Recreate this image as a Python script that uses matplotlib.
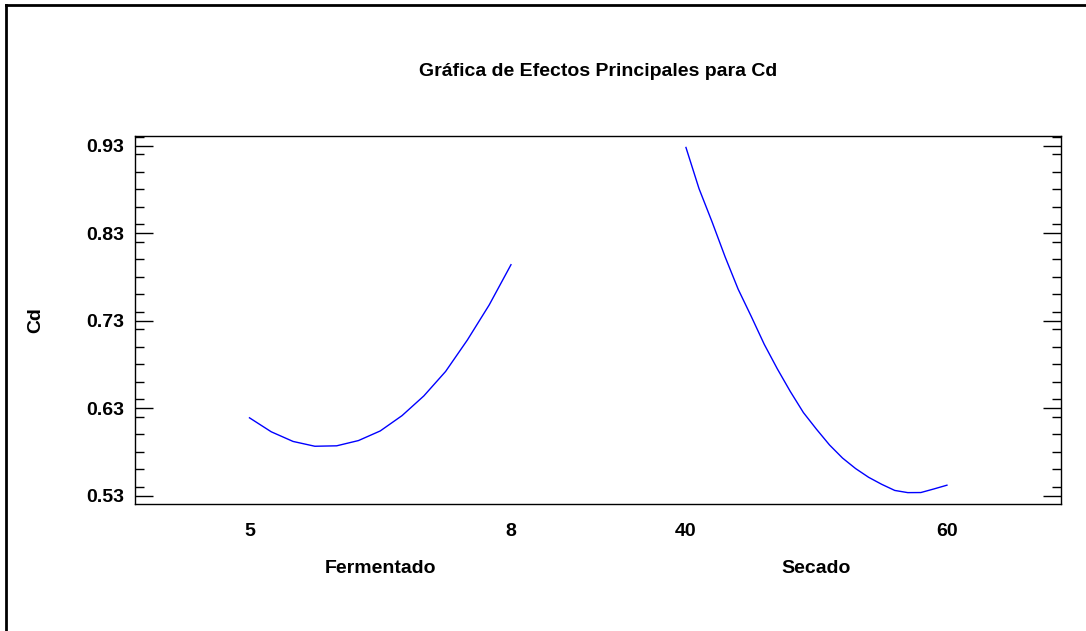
import matplotlib
matplotlib.use("Agg")
import matplotlib.pyplot as plt
from matplotlib.lines import Line2D
from matplotlib.ticker import MultipleLocator

# Datos
fermentado = [5.0, 5.25, 5.5, 5.75, 6.0, 6.25, 6.5, 6.75, 7.0, 7.25, 7.5, 7.75, 8.0]
cd_fermentado = [0.619, 0.603, 0.592, 0.5865, 0.587, 0.593, 0.604, 0.6215, 0.644,
                 0.672, 0.708, 0.748, 0.794]

secado = [40, 41, 42, 43, 44, 45, 46, 47, 48, 49, 50, 51, 52, 53, 54, 55, 56, 57, 58, 59, 60]
cd_secado = [0.928, 0.881, 0.843, 0.803, 0.766, 0.735, 0.703, 0.675, 0.649, 0.625,
             0.606, 0.588, 0.573, 0.561, 0.551, 0.543, 0.536, 0.5335, 0.5336, 0.5377, 0.542]

y_ticks = [0.53, 0.63, 0.73, 0.83, 0.93]
titulo = "Gráfica de Efectos Principales para Cd"

plt.rcParams['font.family'] = ['Liberation Sans', 'DejaVu Sans']
plt.rcParams['font.weight'] = 'bold'
plt.rcParams['font.size'] = 14

W, H = 1086, 631
fig = plt.figure(figsize=(W / 100, H / 100), dpi=100)
rect = [135 / W, 1 - 504 / H, (1061 - 135) / W, (504 - 136) / H]
ax1 = fig.add_axes(rect)
ax2 = fig.add_axes(rect, frameon=False)

ax1.plot(fermentado, cd_fermentado, color='blue', lw=1)
ax2.plot(secado, cd_secado, color='blue', lw=1)

ylim = (0.5205, 0.9411)
ax1.set_ylim(ylim)
ax2.set_ylim(ylim)
ax1.set_xlim(3.6865, 14.31)
ax2.set_xlim(-2.22, 68.74)

ax1.set_xticks([5, 8])
ax2.set_xticks([40, 60])
for a in (ax1, ax2):
    a.tick_params(axis='x', length=0, pad=13.5, labelsize=14)

ax1.set_yticks(y_ticks)
ax1.set_yticklabels([f"{v:.2f}" for v in y_ticks])
ax1.yaxis.set_minor_locator(MultipleLocator(0.02))
ax1.tick_params(axis='y', which='major', direction='in', length=12.7, width=1,
                left=True, right=True, pad=8, labelsize=14)
ax1.tick_params(axis='y', which='minor', direction='in', length=6.7, width=1,
                left=True, right=True)
ax2.tick_params(axis='y', which='both', left=False, right=False, labelleft=False)

for s in ax1.spines.values():
    s.set_linewidth(1)

ax1.text(6.5, -0.1766, "Fermentado", transform=ax1.get_xaxis_transform(),
         ha='center', va='center')
ax2.text(50, -0.1766, "Secado", transform=ax2.get_xaxis_transform(),
         ha='center', va='center')

fig.text(598 / W, 1 - 72 / H, titulo, ha='center', va='center')
fig.text(36 / W, 1 - 320 / H, "Cd", rotation=90, ha='center', va='center')

# marco exterior
fig.add_artist(Line2D([6 / W, 6 / W], [0, 1 - 5 / H], transform=fig.transFigure,
                      color='black', lw=2, solid_capstyle='projecting'))
fig.add_artist(Line2D([6 / W, 1], [1 - 5 / H, 1 - 5 / H], transform=fig.transFigure,
                      color='black', lw=2, solid_capstyle='projecting'))

fig.savefig("out.png", dpi=100)
